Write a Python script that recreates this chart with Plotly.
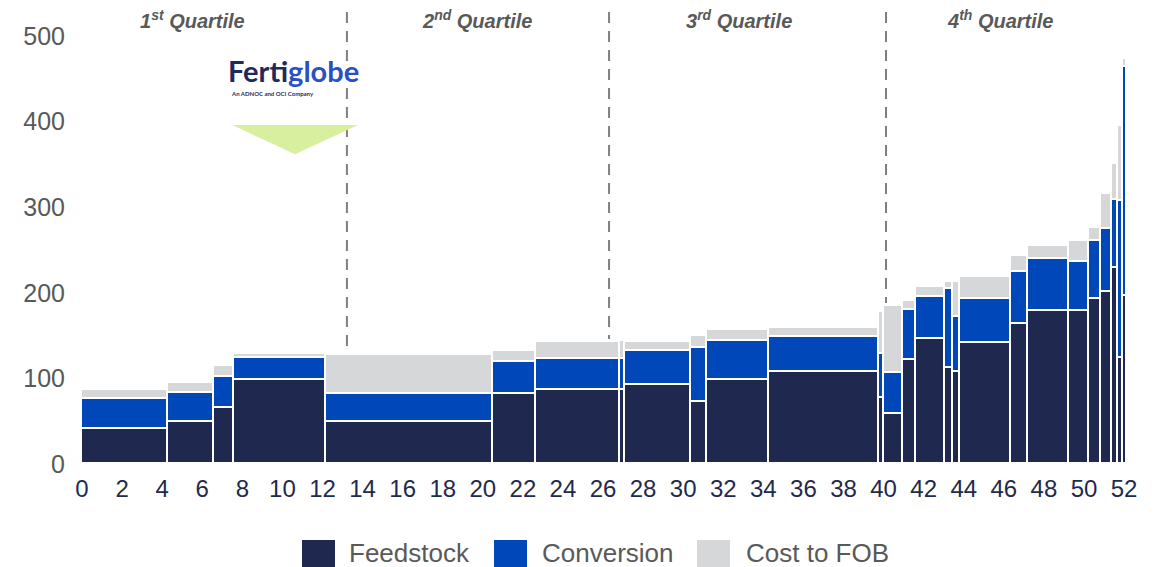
import plotly.graph_objects as go

# Capacity blocks (Mt) and cash-cost components ($/t) for each producer, sorted by total cost
capacity = [4.27, 2.33, 0.96, 4.61, 8.33, 2.17, 4.20, 0.23, 3.31, 0.77, 3.12, 5.45, 0.25,
             0.98, 0.62, 1.44, 0.41, 0.37, 2.53, 0.87, 2.02, 1.03, 0.59, 0.54, 0.30, 0.23, 0.22]
feedstock = [41, 49, 66, 98, 49, 82, 87, 87, 92, 72, 98, 107, 77,
             58, 122, 146, 112, 107, 141, 163, 179, 179, 193, 201, 229, 124, 196]
conversion = [35, 34, 36, 26, 33, 37, 36, 36, 40, 63, 46, 41, 52,
              48, 58, 49, 92, 65, 52, 61, 61, 57, 67, 74, 80, 183, 268]
cost_to_fob = [10, 12, 12, 5, 45, 13, 20, 21, 11, 14, 12, 11, 48,
               79, 11, 12, 9, 41, 26, 19, 15, 25, 16, 40, 41, 88, 9]

series_names = ["Feedstock", "Conversion", "Cost to FOB"]
series_colors = ["#1f294f", "#0047ba", "#d6d7d9"]

quartile_breaks = [13.22, 26.3, 40.12]
quartile_labels = ["1<sup>st</sup> Quartile", "2<sup>nd</sup> Quartile",
                   "3<sup>rd</sup> Quartile", "4<sup>th</sup> Quartile"]
quartile_label_x = [5.49, 19.71, 32.78, 45.8]

x_ticks = list(range(0, 53, 2))
y_ticks = [0, 100, 200, 300, 400, 500]

# bar geometry from cumulative capacity
starts, mids = [], []
acc = 0.0
for w in capacity:
    starts.append(acc)
    mids.append(acc + w / 2)
    acc += w
totals = [f + c + t for f, c, t in zip(feedstock, conversion, cost_to_fob)]

fig = go.Figure()
for name, vals, col in zip(series_names, [feedstock, conversion, cost_to_fob], series_colors):
    fig.add_trace(go.Bar(
        x=mids, y=vals, width=capacity, name=name,
        marker=dict(color=col, line=dict(color="white", width=1.6)),
        showlegend=False,
    ))

# plot-area geometry (pixels)
W, H = 1173, 567
ML, MR, MT, MB = 82, 33, 8, 103
PW, PH = W - ML - MR, H - MT - MB
X_MAX = PW / 20.04
Y_MAX = PH / 0.856


def px_x(px):
    return (px - ML) / PW


def px_y(py):
    return (H - MB - py) / PH


shapes = []
# quartile separators, from the top down to the bar at that position
for qb in quartile_breaks:
    top_bar = 0
    for s, w, t in zip(starts, capacity, totals):
        if s <= qb < s + w:
            top_bar = t
    shapes.append(dict(type="line", xref="x", yref="y", x0=qb, x1=qb,
                       y0=(H - MB - 12) / 0.856, y1=top_bar + 3,
                       line=dict(color="#808080", width=2, dash="11px,8px"), layer="above"))

# downward marker under the company logo
shapes.append(dict(type="path", xref="x", yref="y",
                   path="M 7.49 396 L 13.77 396 L 10.63 362 Z",
                   fillcolor="#d9efa0", line=dict(width=0)))

annotations = []
for lab, qx in zip(quartile_labels, quartile_label_x):
    annotations.append(dict(x=qx, y=518.7, xref="x", yref="y", text="<b><i>" + lab + "</i></b>",
                            showarrow=False, font=dict(size=20, color="#595959",
                                                       family="Liberation Sans, Arial, sans-serif")))

annotations.append(dict(x=10.53, y=460, xref="x", yref="y", showarrow=False,
                        text="<b><span style='color:#1f2a5a'>Ferti</span>"
                             "<span style='color:#2a4fc2'>globe</span></b>",
                        font=dict(size=29, family="Lato, sans-serif")))
annotations.append(dict(x=7.33, y=433, xref="x", yref="y", showarrow=False, xanchor="left",
                        text="<b>An ADNOC and OCI Company</b>",
                        font=dict(size=6, color="#1f2a5a", family="Lato, sans-serif")))

# legend drawn as swatches + labels below the axis
legend_sq = [302, 494, 697]
legend_tx = [348, 541, 745]
for name, col, sx, tx in zip(series_names, series_colors, legend_sq, legend_tx):
    shapes.append(dict(type="rect", xref="paper", yref="paper",
                       x0=px_x(sx), x1=px_x(sx + 33), y0=px_y(574), y1=px_y(540),
                       fillcolor=col, line=dict(width=0)))
    annotations.append(dict(x=px_x(tx), y=px_y(553), xref="paper", yref="paper",
                            xanchor="left", yanchor="middle", showarrow=False, text=name,
                            borderpad=0,
                            font=dict(size=26, color="#595959",
                                      family="Liberation Sans, Arial, sans-serif")))

fig.update_layout(
    barmode="stack",
    bargap=0,
    width=W, height=H,
    margin=dict(l=ML, r=MR, t=MT, b=MB),
    plot_bgcolor="white", paper_bgcolor="white",
    font=dict(family="Liberation Sans, Arial, sans-serif"),
    shapes=shapes,
    annotations=annotations,
    xaxis=dict(range=[0, X_MAX], tickvals=x_ticks, ticktext=[str(v) for v in x_ticks],
               showgrid=False, zeroline=False, showline=False, ticks="",
               tickfont=dict(size=24, color="#1f2a4f"), ticklabelstandoff=8),
    yaxis=dict(range=[0, Y_MAX], tickvals=y_ticks, showgrid=False, zeroline=False,
               showline=False, ticks="", tickfont=dict(size=25, color="#595959"),
               ticklabelstandoff=16),
)

fig.write_html("out.html")
